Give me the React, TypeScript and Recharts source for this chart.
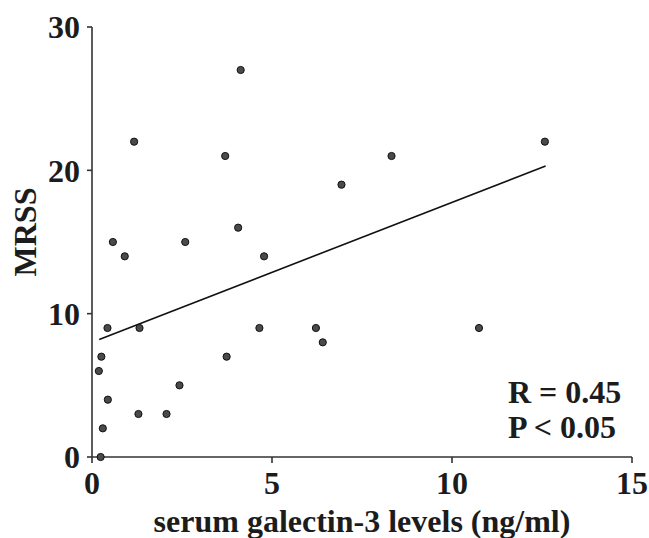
import { ReferenceLine, Scatter, ScatterChart, XAxis, YAxis } from "recharts";

// serum galectin-3 (ng/ml) vs MRSS
const galectin = [
    0.24, 0.3, 0.44, 0.19, 0.26, 0.43, 1.29, 1.32, 2.07, 2.43, 3.74, 4.65, 6.22,
    6.41, 10.75, 0.58, 0.91, 1.17, 2.59, 3.7, 4.06, 4.13, 4.78, 6.93, 8.32, 12.58,
];
const mrss = [
    0, 2, 4, 6, 7, 9, 3, 9, 3, 5, 7, 9, 9, 8, 9, 15, 14, 22, 15, 21, 16, 27, 14, 19, 21, 22,
];

// regression line end points
const fitX = [0.2, 12.6];
const fitY = [8.2, 20.3];

const xTicks = [0, 5, 10, 15];
const yTicks = [0, 10, 20, 30];

const stats = ["R = 0.45", "P < 0.05"];

const points = galectin.map((x, i) => ({ x, y: mrss[i] }));
const fitLine = fitX.map((x, i) => ({ x, y: fitY[i] }));

const FONT = "'Liberation Serif', 'Times New Roman', serif";
const INK = "#1c1c1c";

const textStyle = { fontFamily: FONT, fontSize: 32, fontWeight: 700, fill: INK };

const Dot = (props: any) => (
    <circle cx={props.cx} cy={props.cy} r={3.6} fill="#4a4a4a" stroke="#111" strokeWidth={1} />
);

const App = () => {
    return (
        <div style={{ position: "absolute", left: 0, top: 0, width: 649, height: 538, background: "#fff" }}>
            <ScatterChart width={649} height={538} margin={{ top: 27, right: 17, bottom: 41, left: 32 }}>
                <XAxis
                    type="number"
                    dataKey="x"
                    domain={[0, 15]}
                    ticks={xTicks}
                    tickSize={6}
                    tickMargin={8}
                    height={40}
                    stroke="#333"
                    strokeWidth={1.6}
                    tick={textStyle}
                    label={{
                        value: "serum galectin-3 levels (ng/ml)",
                        content: (p: any) => (
                            <text
                                x={p.viewBox.x + p.viewBox.width / 2}
                                y={532}
                                textAnchor="middle"
                                style={textStyle}
                            >
                                serum galectin-3 levels (ng/ml)
                            </text>
                        ),
                    }}
                />
                <YAxis
                    type="number"
                    dataKey="y"
                    domain={[0, 30]}
                    ticks={yTicks}
                    tickSize={5}
                    tickMargin={7}
                    width={60}
                    stroke="#333"
                    strokeWidth={1.6}
                    tick={textStyle}
                    label={{
                        value: "MRSS",
                        content: () => (
                            <text
                                x={25}
                                y={232}
                                transform="rotate(-90 25 232)"
                                textAnchor="middle"
                                dominantBaseline="central"
                                style={textStyle}
                            >
                                MRSS
                            </text>
                        ),
                    }}
                />
                <ReferenceLine
                    segment={[fitLine[0], fitLine[1]]}
                    stroke="#111"
                    strokeWidth={1.6}
                />
                <Scatter data={points} shape={Dot} isAnimationActive={false} />
            </ScatterChart>
            {stats.map((s, i) => (
                <div
                    key={s}
                    style={{
                        position: "absolute",
                        left: 508,
                        top: 376 + i * 35,
                        fontFamily: FONT,
                        fontSize: 32,
                        fontWeight: 700,
                        lineHeight: "32px",
                        color: INK,
                        whiteSpace: "pre",
                    }}
                >
                    {s}
                </div>
            ))}
        </div>
    );
};

export default App;
